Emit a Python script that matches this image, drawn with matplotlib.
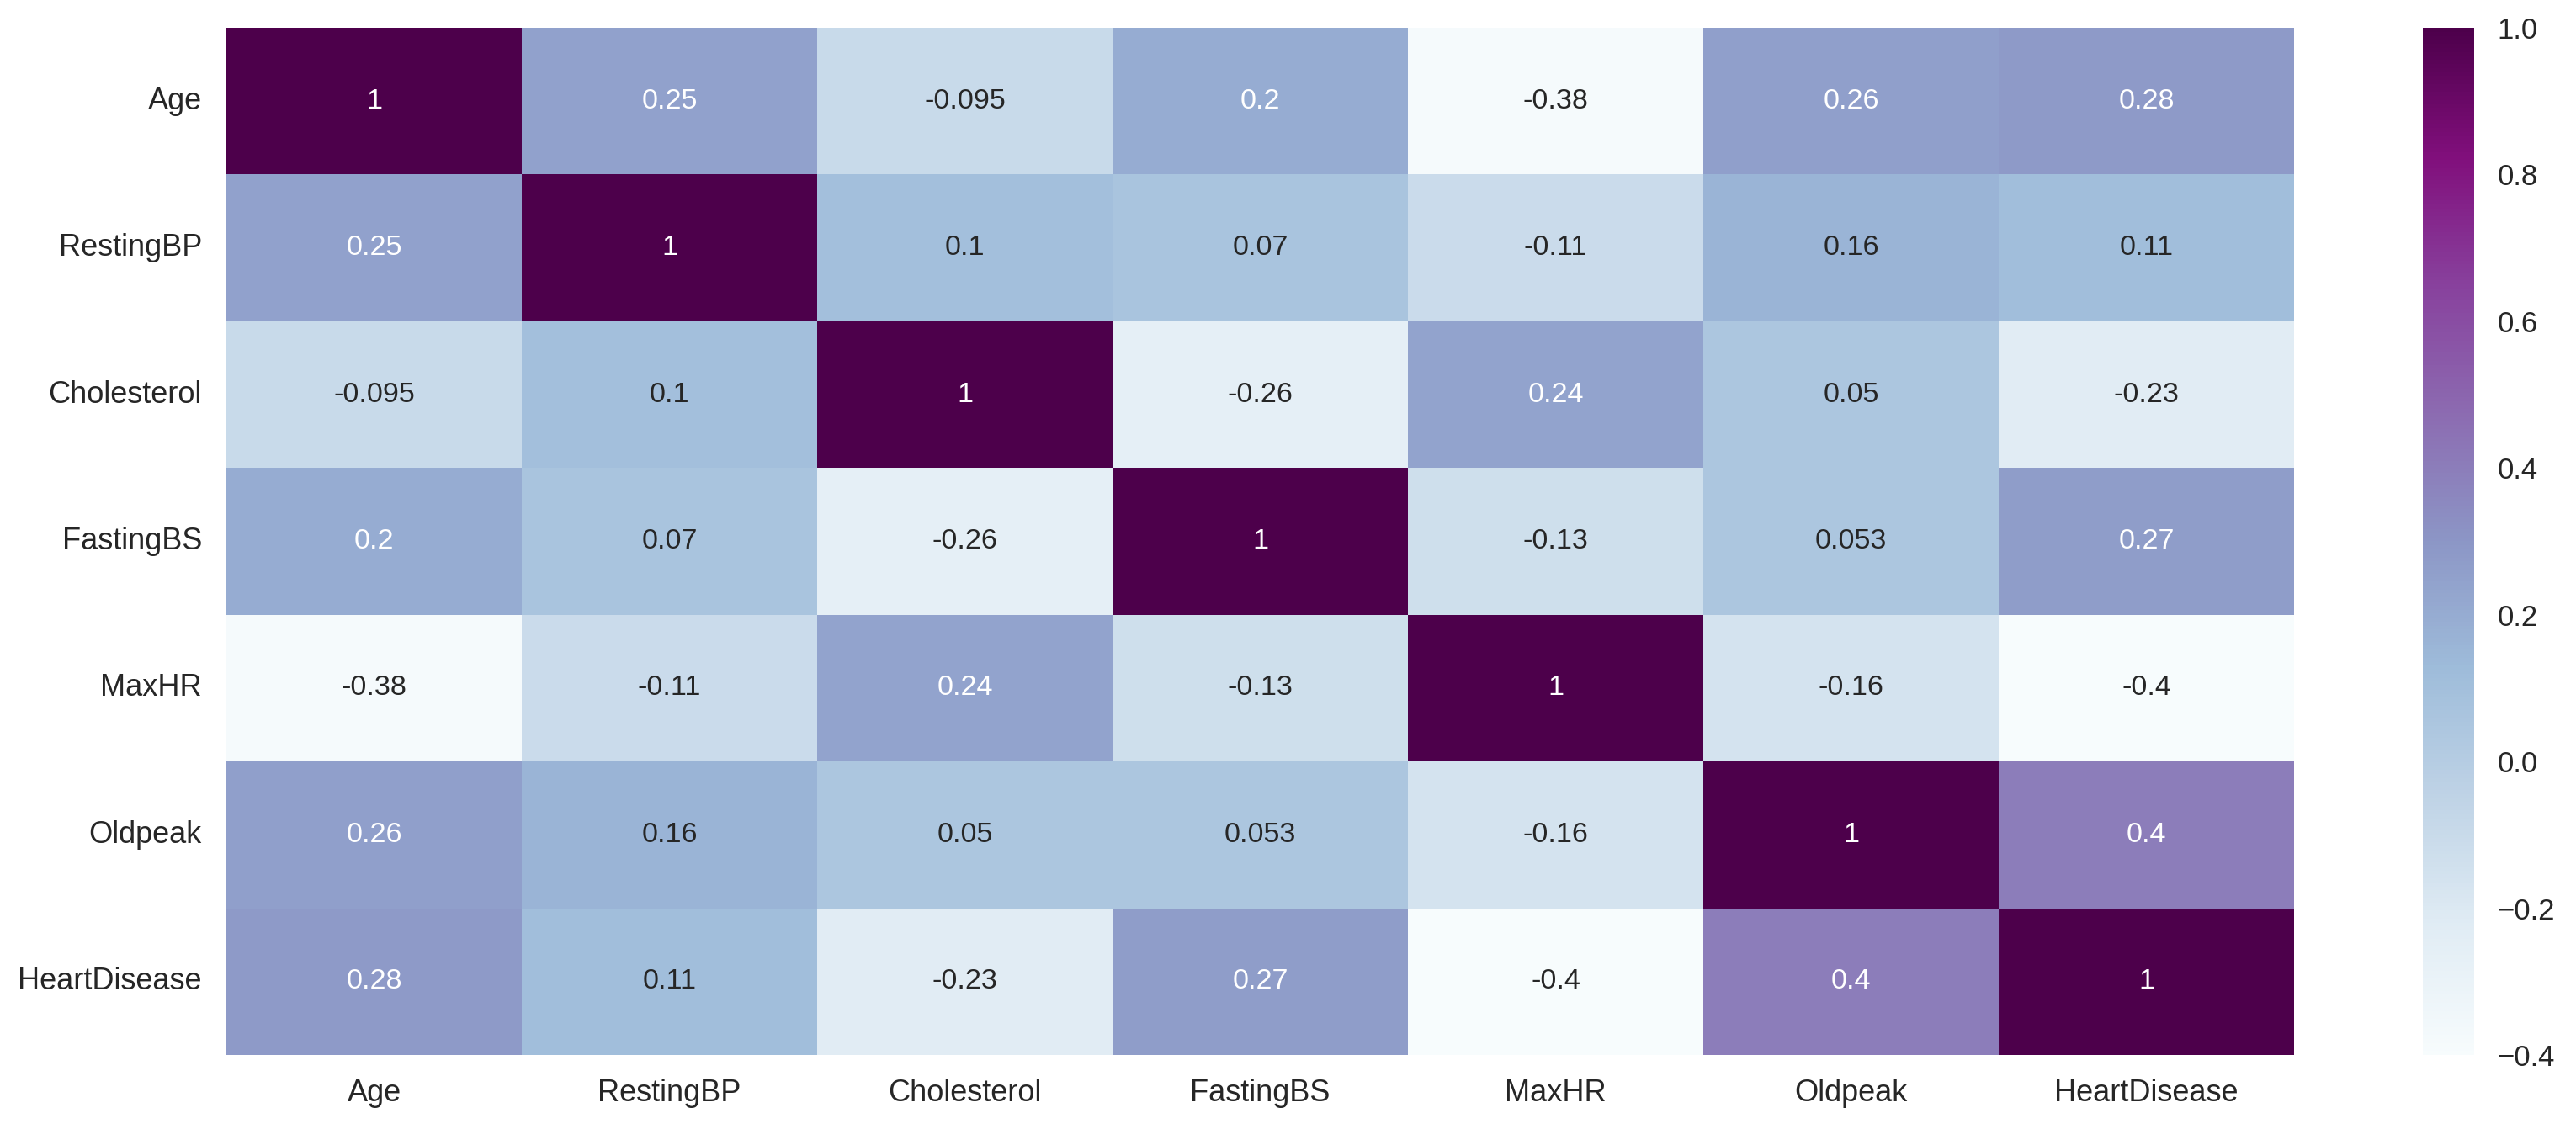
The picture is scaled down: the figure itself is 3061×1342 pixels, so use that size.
import numpy as np
import pandas as pd
import matplotlib
matplotlib.use("Agg")
import matplotlib.pyplot as plt
import seaborn as sns

# correlation matrix of the numeric columns (values as shown in the cells)
labels = ["Age", "RestingBP", "Cholesterol", "FastingBS", "MaxHR", "Oldpeak", "HeartDisease"]

age = [1, 0.25, -0.095, 0.2, -0.38, 0.26, 0.28]
resting_bp = [0.25, 1, 0.1, 0.07, -0.11, 0.16, 0.11]
cholesterol = [-0.095, 0.1, 1, -0.26, 0.24, 0.05, -0.23]
fasting_bs = [0.2, 0.07, -0.26, 1, -0.13, 0.053, 0.27]
max_hr = [-0.38, -0.11, 0.24, -0.13, 1, -0.16, -0.4]
oldpeak = [0.26, 0.16, 0.05, 0.053, -0.16, 1, 0.4]
heart_disease = [0.28, 0.11, -0.23, 0.27, -0.4, 0.4, 1]

corr = pd.DataFrame([age, resting_bp, cholesterol, fasting_bs, max_hr, oldpeak, heart_disease],
                    index=labels, columns=labels)

plt.style.use("seaborn-v0_8")
plt.rcParams["font.family"] = ["Liberation Sans", "DejaVu Sans"]
plt.rcParams["text.color"] = "#262626"
plt.rcParams["xtick.color"] = "#262626"
plt.rcParams["ytick.color"] = "#262626"

fig = plt.figure(figsize=(15.305, 6.71), dpi=200)
ax = fig.add_axes([0.0879, 0.0656, 0.8027, 0.9098])
cax = fig.add_axes([0.9405, 0.0656, 0.0199, 0.9098])

sns.heatmap(corr, annot=True, cmap="BuPu", ax=ax, cbar_ax=cax,
            annot_kws={"size": 12.3})

ax.tick_params(axis="y", length=0, labelsize=13, pad=10.5)
ax.tick_params(axis="x", length=0, labelsize=13, pad=10)
ax.set_yticklabels(labels, rotation=0)
ax.set_xticklabels(labels, rotation=0)

cax.tick_params(length=0, labelsize=12.5, pad=10)
cax.set_yticks([-0.4, -0.2, 0.0, 0.2, 0.4, 0.6, 0.8, 1.0])
for s in cax.spines.values():
    s.set_visible(False)

fig.savefig("out.png", dpi=200)
